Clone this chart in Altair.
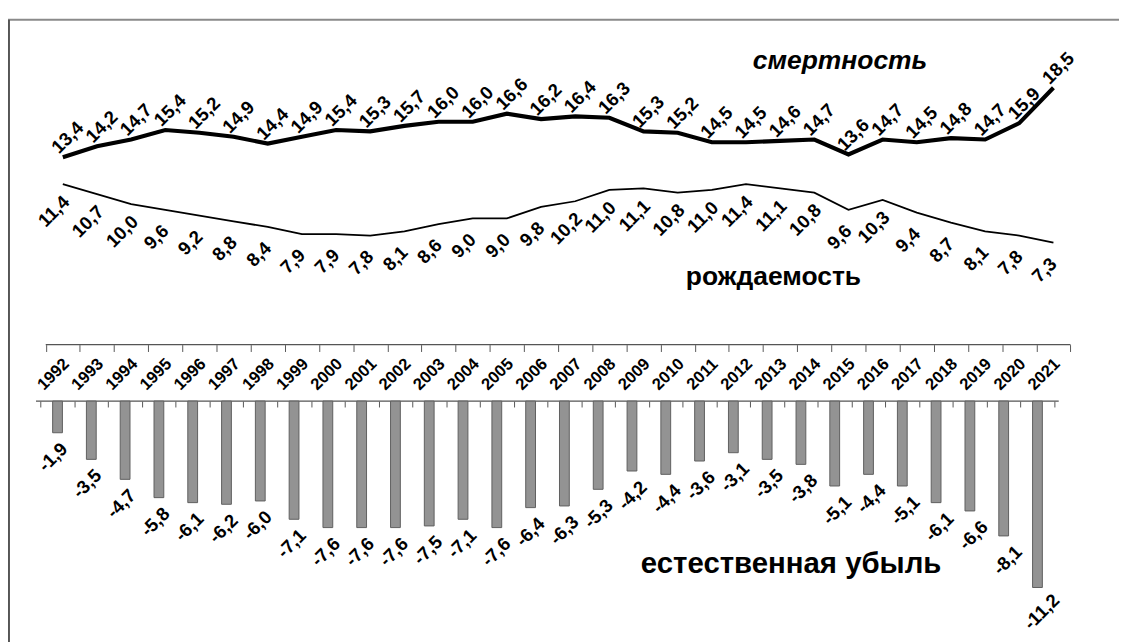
import altair as alt
import pandas as pd

years = list(range(1992, 2022))
mortality = [13.4, 14.2, 14.7, 15.4, 15.2, 14.9, 14.4, 14.9, 15.4, 15.3,
             15.7, 16.0, 16.0, 16.6, 16.2, 16.4, 16.3, 15.3, 15.2, 14.5,
             14.5, 14.6, 14.7, 13.6, 14.7, 14.5, 14.8, 14.7, 15.9, 18.5]
birth = [11.4, 10.7, 10.0, 9.6, 9.2, 8.8, 8.4, 7.9, 7.9, 7.8,
         8.1, 8.6, 9.0, 9.0, 9.8, 10.2, 11.0, 11.1, 10.8, 11.0,
         11.4, 11.1, 10.8, 9.6, 10.3, 9.4, 8.7, 8.1, 7.8, 7.3]
decline = [-1.9, -3.5, -4.7, -5.8, -6.1, -6.2, -6.0, -7.1, -7.6, -7.6,
           -7.6, -7.5, -7.1, -7.6, -6.4, -6.3, -5.3, -4.2, -4.4, -3.6,
           -3.1, -3.5, -3.8, -5.1, -4.4, -5.1, -6.1, -6.6, -8.1, -11.2]

title_mort = "смертность"
title_birth = "рождаемость"
title_decl = "естественная убыль"


def fmt(v):
    return f"{v:.1f}".replace(".", ",")


df = pd.DataFrame({"year": years, "mortality": mortality, "birth": birth, "decline": decline})
df["m_label"] = [fmt(v) for v in mortality]
df["b_label"] = [fmt(v) for v in birth]
df["d_label"] = [fmt(v) for v in decline]

bounds = pd.DataFrame({"start": [years[0] - 0.5], "end": [years[-1] + 0.5], "zero": [0]})
tick_vals = [y - 0.5 for y in years] + [years[-1] + 0.5]
one = pd.DataFrame({"k": [0]})

W, H = 1135, 640
FONT = "Liberation Sans"


def x_domain(p0, v0, step):
    # scale so that value v0 sits p0 px from the left, step px per unit
    return [v0 - p0 / step, v0 + (W - p0) / step]


def y_domain(p0, v0, slope):
    # scale so that value v0 sits p0 px below the top, slope px per unit
    return [v0 - (H - p0) / slope, v0 + p0 / slope]


line_x = alt.Scale(domain=x_domain(56.0, years[0], 34.897), nice=False, zero=False)
bar_x = alt.Scale(domain=x_domain(46.0, years[0], 34.828), nice=False, zero=False)
m_y = alt.Scale(domain=y_domain(145.5, 13.4, 13.9), nice=False, zero=False)
b_y = alt.Scale(domain=y_domain(173.0, 11.4, 14.6), nice=False, zero=False)
d_y = alt.Scale(domain=y_domain(394.7, 0.0, 17.0), nice=False, zero=False)

year_axis = alt.Axis(
    values=tick_vals, orient="bottom", offset=-(H - 337), domain=False, grid=False, title=None,
    tickSize=7, tickColor="#555555", tickWidth=1,
    labelExpr=f"datum.value > {years[-1]} ? '' : format(datum.value + 0.5, 'd')",
    labelAngle=315, labelAlign="center", labelBaseline="middle", labelPadding=23,
    labelOffset=7.5, labelFont=FONT, labelFontWeight="bold", labelFontSize=17,
    labelColor="black", labelOverlap=False, labelFlush=False, labelBound=False,
)
bar_axis = alt.Axis(
    values=tick_vals, orient="bottom", offset=-(H - 394.7), domain=False, grid=False,
    title=None, labels=False, tickSize=6, tickColor="#555555", tickWidth=1,
)

base = alt.Chart(df)

mort_line = base.mark_line(color="black", strokeWidth=4.2).encode(
    x=alt.X("year:Q", scale=line_x, axis=year_axis),
    y=alt.Y("mortality:Q", scale=m_y, axis=None),
)
mort_text = base.mark_text(
    font=FONT, fontWeight="bold", fontSize=19, angle=315, align="center",
    baseline="middle", dx=17.7, dy=-10.6, color="black",
).encode(
    x=alt.X("year:Q", scale=line_x, axis=None),
    y=alt.Y("mortality:Q", scale=m_y, axis=None),
    text="m_label:N",
)
birth_line = base.mark_line(color="black", strokeWidth=1.8).encode(
    x=alt.X("year:Q", scale=line_x, axis=None),
    y=alt.Y("birth:Q", scale=b_y, axis=None),
)
birth_text = base.mark_text(
    font=FONT, fontWeight="bold", fontSize=19, angle=315, align="center",
    baseline="middle", dx=-26.2, dy=13.4, color="black",
).encode(
    x=alt.X("year:Q", scale=line_x, axis=None),
    y=alt.Y("birth:Q", scale=b_y, axis=None),
    text="b_label:N",
)
bars = base.mark_bar(orient="vertical", size=10, color="#939393", stroke="#5e5e5e", strokeWidth=1).encode(
    x=alt.X("year:Q", scale=bar_x, axis=bar_axis),
    y=alt.Y("decline:Q", scale=d_y, axis=None),
    y2=alt.datum(0),
)
bar_text = base.mark_text(
    font=FONT, fontWeight="bold", fontSize=19, angle=315, align="center",
    baseline="middle", dx=-17.7, dy=17.7, color="black",
).encode(
    x=alt.X("year:Q", scale=bar_x, axis=None),
    y=alt.Y("decline:Q", scale=d_y, axis=None),
    text="d_label:N",
)

top_rule = alt.Chart(bounds).mark_rule(color="#555555", strokeWidth=1.2).encode(
    x=alt.X("start:Q", scale=line_x, axis=None),
    x2="end:Q",
    y=alt.value(337),
)
bottom_rule = alt.Chart(bounds).mark_rule(color="#555555", strokeWidth=1.2).encode(
    x=alt.X("start:Q", scale=bar_x, axis=None),
    x2="end:Q",
    y=alt.Y("zero:Q", scale=d_y, axis=None),
)

frame_top = alt.Chart(one).mark_rule(color="#8a8a8a", strokeWidth=2).encode(
    x=alt.value(0), x2=alt.value(W + 40), y=alt.value(5)
)
frame_left = alt.Chart(one).mark_rule(color="#555555", strokeWidth=2).encode(
    x=alt.value(1), y=alt.value(5), y2=alt.value(H + 40)
)

t_mort = alt.Chart(one).mark_text(
    text=title_mort, font=FONT, fontWeight="bold", fontStyle="italic", fontSize=27,
    align="center", baseline="alphabetic", color="black",
).encode(x=alt.value(850), y=alt.value(55))
t_birth = alt.Chart(one).mark_text(
    text=title_birth, font=FONT, fontWeight="bold", fontSize=27,
    align="center", baseline="alphabetic", color="black",
).encode(x=alt.value(782), y=alt.value(276))
t_decl = alt.Chart(one).mark_text(
    text=title_decl, font=FONT, fontWeight="bold", fontSize=30,
    align="center", baseline="alphabetic", color="black",
).encode(x=alt.value(800), y=alt.value(570))

chart = alt.layer(
    frame_top, frame_left, top_rule, bottom_rule,
    bars, bar_text, birth_line, birth_text, mort_line, mort_text,
    t_mort, t_birth, t_decl,
).resolve_scale(x="independent", y="independent").properties(
    width=W, height=H, autosize=alt.AutoSizeParams(type="none"), padding=0,
).configure_view(stroke="transparent", strokeWidth=0).configure_axisY(
    domain=False, ticks=False, labels=False, grid=False
)

chart.save("out.html", embed_options={"renderer": "svg", "actions": False})
